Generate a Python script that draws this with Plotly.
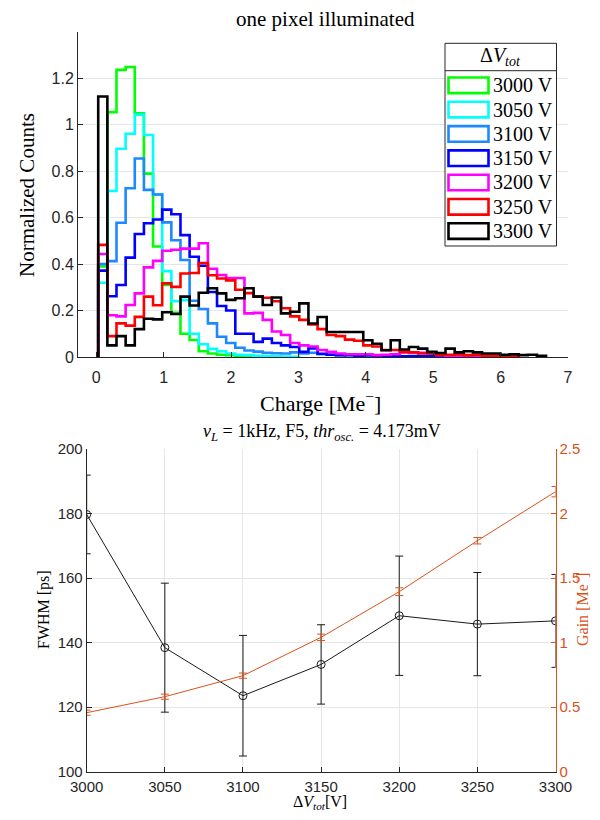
import plotly.graph_objects as go

# ---------------- data: top histogram ----------------
bin_start = 0.03
bin_width = 0.1356
voltages = ["3000 V", "3050 V", "3100 V", "3150 V", "3200 V", "3250 V", "3300 V"]
colors = ["#00FF00", "#00FFFF", "#1E88FF", "#0000FF", "#FF00FF", "#FF0000", "#000000"]

counts_3000 = [0.39, 1.055, 1.237, 1.249, 1.05, 0.79, 0.476, 0.31, 0.19, 0.10, 0.073, 0.025,
               0.015, 0.01, 0.008, 0.005, 0.003, 0.002, 0.002, 0.001]
counts_3050 = [0.32, 0.715, 0.897, 0.962, 1.044, 0.956, 0.70, 0.37, 0.24, 0.245, 0.10, 0.055,
               0.035, 0.025, 0.015, 0.01, 0.008, 0.005, 0.004, 0.003, 0.002, 0.001]
counts_3100 = [0.40, 0.413, 0.578, 0.727, 0.855, 0.72, 0.70, 0.58, 0.503, 0.418, 0.242, 0.207,
               0.145, 0.087, 0.06, 0.04, 0.028, 0.023, 0.018, 0.016, 0.015, 0.02, 0.015, 0.018,
               0.012, 0.01, 0.008, 0.005, 0.005, 0.003]
counts_3150 = [0.372, 0.262, 0.31, 0.428, 0.53, 0.576, 0.592, 0.635, 0.615, 0.525, 0.432, 0.393,
               0.28, 0.22, 0.20, 0.10, 0.10, 0.065, 0.079, 0.06, 0.05, 0.043, 0.022, 0.037,
               0.014, 0.01, 0.008, 0.01, 0.006, 0.008, 0.005, 0.004, 0.006, 0.003, 0.004, 0.003,
               0.005, 0.002, 0.003]
counts_3200 = [0.444, 0.18, 0.175, 0.224, 0.274, 0.386, 0.414, 0.458, 0.462, 0.467, 0.467, 0.49,
               0.38, 0.353, 0.34, 0.34, 0.188, 0.19, 0.16, 0.11, 0.095, 0.06, 0.05, 0.045, 0.03,
               0.022, 0.015, 0.012, 0.012, 0.012, 0.008, 0.01, 0.012, 0.02, 0.02, 0.018, 0.02,
               0.008, 0.005, 0.006, 0.004, 0.005, 0.003, 0.004, 0.002]
counts_3250 = [0.483, 0.09, 0.145, 0.135, 0.173, 0.26, 0.223, 0.317, 0.302, 0.36, 0.362, 0.405,
               0.352, 0.338, 0.33, 0.29, 0.275, 0.262, 0.255, 0.24, 0.21, 0.175, 0.16, 0.14, 0.12,
               0.095, 0.09, 0.075, 0.07, 0.05, 0.045, 0.03, 0.03, 0.022, 0.02, 0.015, 0.015, 0.01,
               0.01, 0.012, 0.008, 0.01, 0.005, 0.005, 0.003, 0.004]
counts_3300 = [1.122, 0.05, 0.09, 0.05, 0.12, 0.165, 0.162, 0.193, 0.185, 0.26, 0.222, 0.277,
               0.296, 0.274, 0.246, 0.253, 0.296, 0.26, 0.224, 0.256, 0.188, 0.195, 0.231, 0.144,
               0.172, 0.108, 0.108, 0.108, 0.108, 0.072, 0.057, 0.029, 0.072, 0.032, 0.043, 0.036,
               0.022, 0.017, 0.036, 0.02, 0.025, 0.02, 0.015, 0.015, 0.01, 0.012, 0.008, 0.01, 0.005]
all_counts = [counts_3000, counts_3050, counts_3100, counts_3150, counts_3200, counts_3250, counts_3300]

top_xticks = [0, 1, 2, 3, 4, 5, 6, 7]
top_yticks = [0, 0.2, 0.4, 0.6, 0.8, 1.0, 1.2]
top_ytext = ["0", "0.2", "0.4", "0.6", "0.8", "1", "1.2"]

# ---------------- data: bottom chart ----------------
dV = [3000, 3050, 3100, 3150, 3200, 3250, 3300]
fwhm = [179.7, 138.4, 123.5, 133.2, 148.3, 145.7, 146.7]
fwhm_err = [12.2, 20.0, 18.7, 12.3, 18.5, 16.0, 14.4]
gain = [0.456, 0.58, 0.743, 1.04, 1.394, 1.789, 2.169]
gain_err = [0.02, 0.02, 0.02, 0.025, 0.03, 0.025, 0.04]
gain_ticks = [0, 0.5, 1, 1.5, 2, 2.5]
gain_ticktext = ["0", "0.5", "1", "1.5", "2", "2.5"]
fwhm_ticks = [100, 120, 140, 160, 180, 200]

# page has an 8px body margin: figure is placed at (8, 8) of the 600x820 window
OFF = 8
W, H = 600 - 2 * OFF, 820 - 2 * OFF
def px(x): return (x - OFF) / W
def py(y): return 1 - (y - OFF) / H

SERIF = "Liberation Serif"
SANS = "Liberation Sans"
AX = "#262626"
ORANGE = "#D95319"

fig = go.Figure()

# stairs histograms
for name, col, c in zip(voltages, colors, all_counts):
    n = len(c)
    edges = [bin_start + bin_width * k for k in range(n + 1)]
    xs = [edges[0]] + edges[:n] + [edges[n]]
    ys = [0] + list(c) + [0]
    fig.add_trace(go.Scatter(x=xs, y=ys, mode="lines", line=dict(color=col, width=2.6, shape="hv"),
                             name=name, showlegend=False, xaxis="x", yaxis="y"))

# bottom: gain (right axis)
fig.add_trace(go.Scatter(x=dV, y=gain, mode="lines", line=dict(color=ORANGE, width=1),
                         error_y=dict(type="data", array=gain_err, color=ORANGE, thickness=1, width=4),
                         showlegend=False, xaxis="x2", yaxis="y3"))
# bottom: FWHM
fig.add_trace(go.Scatter(x=dV, y=fwhm, mode="lines+markers", line=dict(color="#1a1a1a", width=1),
                         marker=dict(symbol="circle-open", size=8, color="#1a1a1a", line=dict(width=1)),
                         error_y=dict(type="data", array=fwhm_err, color="#1a1a1a", thickness=1, width=4),
                         showlegend=False, xaxis="x2", yaxis="y2"))

tickfont = dict(family=SANS, size=16, color=AX)
tickfont2 = dict(family=SANS, size=15, color=AX)

fig.update_layout(
    width=W, height=H, margin=dict(l=0, r=0, t=0, b=0, autoexpand=False),
    paper_bgcolor="white", plot_bgcolor="white", showlegend=False,
    xaxis=dict(domain=[px(78), px(568)], range=[-0.27, 7.0], tickvals=top_xticks,
               ticks="inside", ticklen=5, tickcolor=AX, showline=True, linecolor=AX, linewidth=1,
               showgrid=False, zeroline=False, tickfont=tickfont, anchor="y", automargin=False,
               ticklabelstandoff=6),
    yaxis=dict(domain=[py(357), py(32)], range=[0, 1.4], tickvals=top_yticks, ticktext=top_ytext,
               ticks="inside", ticklen=5, tickcolor=AX, showline=True, linecolor=AX, linewidth=1,
               showgrid=True, gridcolor="#e6e6e6", zeroline=False, tickfont=tickfont, anchor="x",
               automargin=False),
    xaxis2=dict(domain=[px(86.7), px(555.5)], range=[3000, 3300], tickvals=dV,
                ticks="inside", ticklen=5, tickcolor=AX, showline=True, linecolor=AX, linewidth=1,
                showgrid=True, gridcolor="#e6e6e6", zeroline=False, tickfont=tickfont2, anchor="y2",
                automargin=False, ticklabelstandoff=1),
    yaxis2=dict(domain=[py(771.5), py(449)], range=[100, 200], tickvals=fwhm_ticks,
                ticks="inside", ticklen=5, tickcolor=AX, showline=True, linecolor=AX, linewidth=1,
                showgrid=True, gridcolor="#e6e6e6", zeroline=False, tickfont=tickfont2, anchor="x2",
                automargin=False),
    yaxis3=dict(overlaying="y2", side="right", range=[0, 2.5], tickvals=gain_ticks,
                ticktext=gain_ticktext,
                ticks="inside", ticklen=5, tickcolor=ORANGE, showline=True, linecolor=ORANGE, linewidth=1,
                showgrid=False, zeroline=False, tickfont=dict(family=SANS, size=15, color=ORANGE),
                anchor="x2", automargin=False),
)

ann = []
def A(x, y, text, size, color="black", angle=0, xanchor="center", family=SERIF):
    ann.append(dict(x=px(x), y=py(y), xref="paper", yref="paper", text=text, showarrow=False,
                    font=dict(family=family, size=size, color=color), textangle=angle,
                    xanchor=xanchor, yanchor="middle"))

A(325, 19, "one pixel illuminated", 21)
A(320, 402, "Charge [Me<sup>−</sup>]", 22)
A(27, 195, "Normalized Counts", 21, angle=-90)
A(322, 433, "<i>ν</i><sub><i>L</i></sub> = 1kHz, F5, <i>thr</i><sub><i>osc.</i></sub> = 4.173mV", 18)
A(320, 802, "Δ<i>V</i><sub><i>tot</i></sub>[V]", 16)
A(44, 610, "FWHM [ps]", 16, angle=-90)
A(581, 610, "Gain [Me<sup>−</sup>]", 16, color=ORANGE, angle=-90)

# manual legend
shapes = []
shapes.append(dict(type="rect", xref="paper", yref="paper", x0=px(445), x1=px(556.5), y0=py(246), y1=py(43.3),
                   line=dict(color=AX, width=1), fillcolor="white", layer="above"))
shapes.append(dict(type="line", xref="paper", yref="paper", x0=px(445), x1=px(556.5), y0=py(70.7), y1=py(70.7),
                   line=dict(color=AX, width=1), layer="above"))
A(500, 57, "Δ<i>V</i><sub><i>tot</i></sub>", 20)
for i, (name, col) in enumerate(zip(voltages, colors)):
    cy = 85.3 + 24.3 * i
    shapes.append(dict(type="rect", xref="paper", yref="paper", x0=px(448.5), x1=px(488.5),
                       y0=py(cy + 7.8), y1=py(cy - 7.8), line=dict(color=col, width=2.6),
                       fillcolor="white", layer="above"))
    A(491, cy, name, 20, xanchor="left")

fig.update_layout(annotations=ann, shapes=shapes)
fig.write_html("out.html")
